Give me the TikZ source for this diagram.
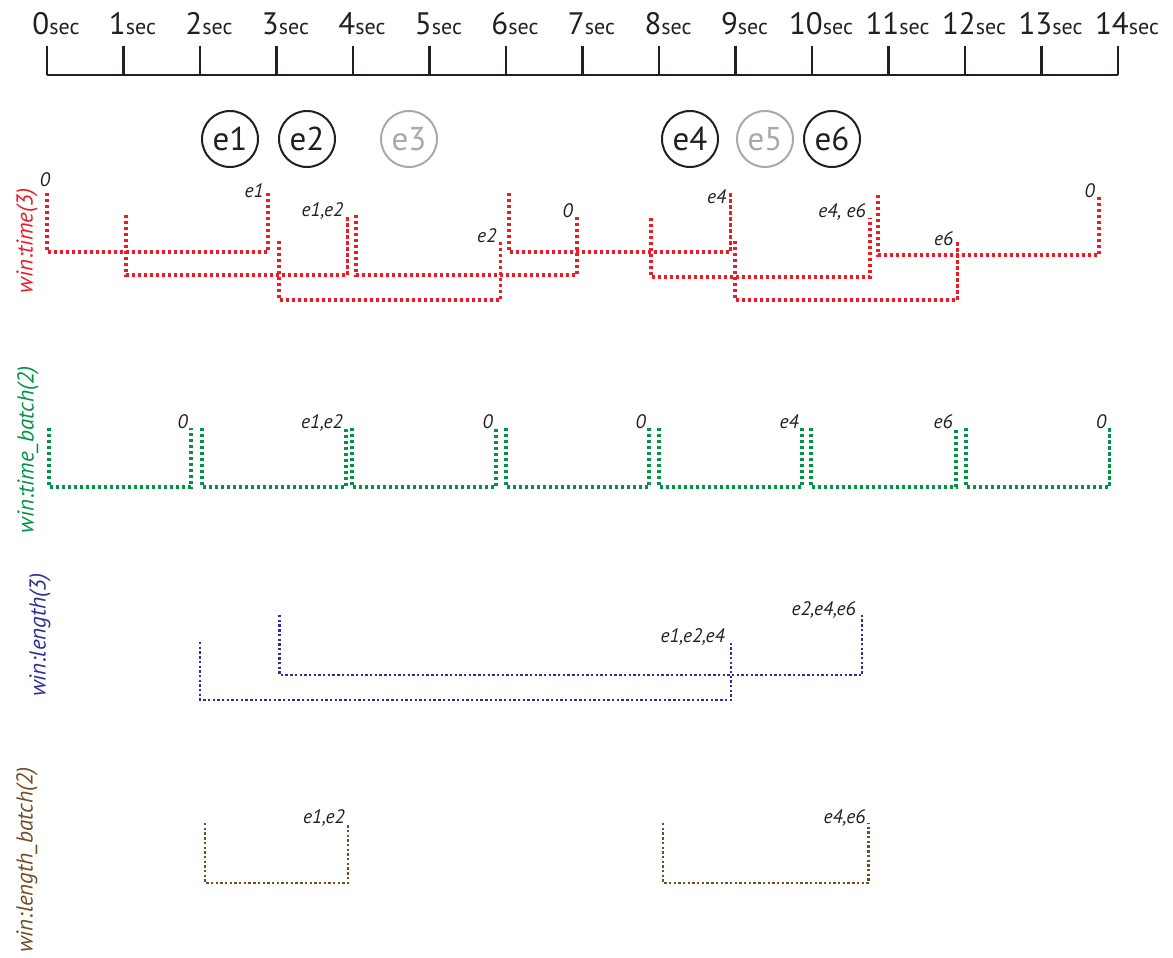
\documentclass[tikz,border=0pt]{standalone}
\usepackage{fontspec}
\setmainfont{PT Sans}
\definecolor{winred}{RGB}{237,28,36}
\definecolor{wingreen}{RGB}{0,148,68}
\definecolor{winblue}{RGB}{46,49,146}
\definecolor{winbrown}{RGB}{117,76,36}
\definecolor{inkblack}{RGB}{35,31,32}
\definecolor{inkgray}{RGB}{167,169,172}
\begin{document}
\begin{tikzpicture}[x=1pt,y=-1pt]
      \tikzset{event/.style={draw, circle, inner sep=0pt, minimum size=56pt, line width=2pt, font=\fontsize{33}{33}\selectfont},
               hit/.style={event, draw=inkblack, text=inkblack},
               miss/.style={event, draw=inkgray, text=inkgray},
               winline/.style={line width=3.1pt, dash pattern=on 3.1pt off 2.9pt},
               thinline/.style={line width=2.6pt, dash pattern=on 2.4pt off 2.3pt},
               winlab/.style={anchor=base east, inner sep=0pt, font=\fontsize{19.5}{19.5}\selectfont\itshape, text=inkblack},
               side/.style={rotate=90, inner sep=0pt, font=\fontsize{23}{23}\selectfont\itshape}}
      \useasboundingbox (0,0) rectangle (1173,958);
%% Timeline
      \draw[inkblack, line width=2.2pt] (47,75) -- (1118,75);
      \foreach \s in {0,...,14} {
            \draw[inkblack, line width=2.2pt] (47+76.5*\s,46) -- (47+76.5*\s,75);
            \node[anchor=base, inner sep=0pt, text=inkblack] (s\s) at (56+76.5*\s,35)
                  {{\fontsize{31}{31}\selectfont\s}{\fontsize{22}{22}\selectfont sec}};
      }
%% Events
      \node[hit] (e1) at (230,139) {e1};
      \node[hit] (e2) at (307,139) {e2};
      \node[miss] (e3) at (409,139) {e3};
      \node[hit] (e4) at (690,139) {e4};
      \node[miss] (e5) at (765,139) {e5};
      \node[hit] (e6) at (832,139) {e6};
%% Window names
      \node[side, text=winred] (wt) at (27,241) {win:time(3)};
      \node[side, text=wingreen] (wtb) at (28,450) {win:time\_batch(2)};
      \node[side, text=winblue] (wl) at (40,635) {win:length(3)};
      \node[side, text=winbrown] (wlb) at (27,860) {win:length\_batch(2)};
%win:time(3)
      \node[winlab, anchor=base] (t0) at (45,186) {0};
      \foreach \a/\b/\t/\d/\y/\lab in {47/268/193/252/197/e1, 126/347.5/215/275/216/{e1,e2},
            279/500.6/241/300/242/e2, 356/577/215/275/217/0, 509/730.5/193/252/203/e4,
            651/870/218/277/217/{e4, e6}, 735/957.5/241/300/245/e6, 878/1099/195/255/197/0} {
            \draw[winline, winred] (\a,\t) -- (\a,\d) -- (\b,\d) -- (\b,\t);
            \node[winlab] at (\b-4,\y) {\lab};
      }
%win:time_batch(2)
      \foreach \a/\b/\lab in {49/191/0, 202/346/{e1,e2}, 352/496/0, 506/649/0,
            659/802/e4, 811/956/e6, 966/1109.5/0} {
            \draw[winline, wingreen] (\a,428) -- (\a,487) -- (\b,487) -- (\b,428);
            \node[winlab] at (\b-3,428) {\lab};
      }
%win:length(3)
      \foreach \a/\b/\t/\d/\lab in {200/731/642/700/{e1,e2,e4}, 279.6/862/615/675/{e2,e4,e6}} {
            \draw[thinline, winblue] (\a,\t) -- (\a,\d) -- (\b,\d) -- (\b,\t);
            \node[winlab] at (\b-6,\t) {\lab};
      }
%win:length_batch(2)
      \foreach \a/\b/\lab in {205/348/{e1,e2}, 663/868.6/{e4,e6}} {
            \draw[thinline, winbrown] (\a,823) -- (\a,883) -- (\b,883) -- (\b,823);
            \node[winlab] at (\b-3,823) {\lab};
      }
\end{tikzpicture}
\end{document}
